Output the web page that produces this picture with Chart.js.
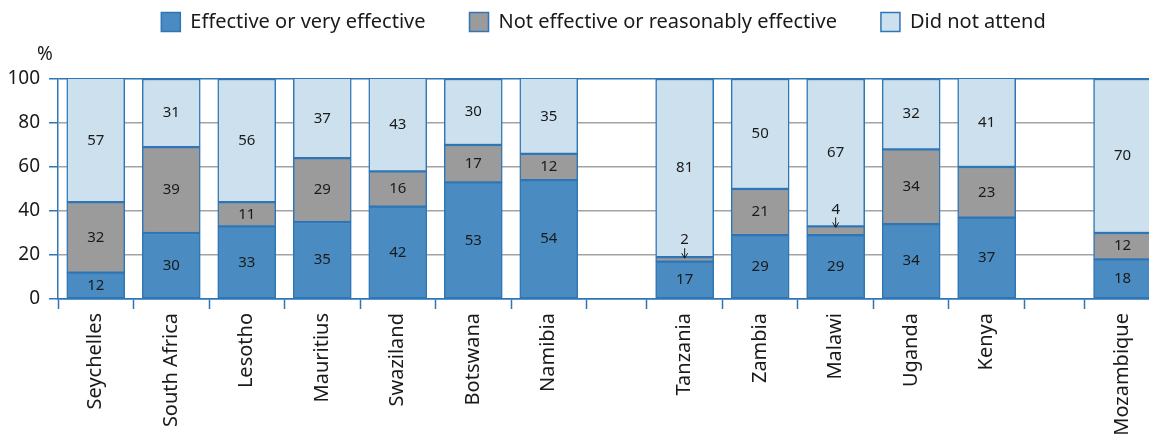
<!DOCTYPE html>
<html>
<head>
<meta charset="utf-8">
<script src="https://cdn.jsdelivr.net/npm/chart.js@4/dist/chart.umd.min.js"></script>
<style>
  html, body { margin: 0; padding: 0; background: #fff; }
  #wrap { width: 1149px; height: 435px; position: relative; }
</style>
</head>
<body>
<div id="wrap"><canvas id="chart"></canvas></div>
<script>
// countries, in three regional groups separated by a gap
const countries = ['Seychelles', 'South Africa', 'Lesotho', 'Mauritius', 'Swaziland', 'Botswana', 'Namibia',
                   'Tanzania', 'Zambia', 'Malawi', 'Uganda', 'Kenya',
                   'Mozambique'];
const groupSizes = [7, 5, 1];

const effective    = [12, 30, 33, 35, 42, 53, 54, 17, 29, 29, 34, 37, 18];
const notEffective = [32, 39, 11, 29, 16, 17, 12, 2, 21, 4, 34, 23, 12];
const didNotAttend = [57, 31, 56, 37, 43, 30, 35, 81, 50, 67, 32, 41, 70];

const seriesNames = ['Effective or very effective', 'Not effective or reasonably effective', 'Did not attend'];
const yTicks = [0, 20, 40, 60, 80, 100];

const BLUE_LINE = '#2f76b6';
const TEXT = '#1a1a1a';
const FONT = "'Noto Sans', 'Open Sans', sans-serif";

// x positions: one unit per bar, extra space between groups
const GAP = 0.8;
const positions = [];
let g = 0, inGroup = 0;
countries.forEach(function(c, i) {
    positions.push(i + g * GAP);
    inGroup++;
    if (inGroup === groupSizes[g]) { g++; inGroup = 0; }
});
const xMax = positions[positions.length - 1] + 0.35;

const xTicks = [];
positions.forEach(function(p, i) {
    const left = p - 0.5;
    if (!xTicks.length || Math.abs(xTicks[xTicks.length - 1].value - left) > 1e-6) {
        xTicks.push({ value: left, label: '', boundary: true });
    }
    xTicks.push({ value: p, label: countries[i], boundary: false });
    if (p + 0.5 <= xMax) xTicks.push({ value: p + 0.5, label: '', boundary: true });
});

function toPoints(values) {
    return values.map(function(v, i) { return { x: positions[i], y: v }; });
}

const barLabels = {
    id: 'barLabels',
    afterDatasetsDraw(chart) {
        const ctx = chart.ctx;
        const top = chart.chartArea.top;
        ctx.save();
        ctx.font = '15px ' + FONT;
        ctx.fillStyle = TEXT;
        ctx.strokeStyle = TEXT;
        ctx.textAlign = 'center';
        ctx.textBaseline = 'middle';
        chart.data.datasets.forEach(function(ds, di) {
            const meta = chart.getDatasetMeta(di);
            meta.data.forEach(function(bar, j) {
                const v = ds.data[j].y;
                const yTop = Math.max(bar.y, top);
                if (v < 5) {
                    ctx.fillText(String(v), bar.x, yTop - 17);
                    ctx.lineWidth = 1;
                    ctx.beginPath();
                    ctx.moveTo(bar.x, yTop - 9);
                    ctx.lineTo(bar.x, yTop);
                    ctx.stroke();
                    ctx.beginPath();
                    ctx.moveTo(bar.x - 3, yTop - 4);
                    ctx.lineTo(bar.x, yTop + 1);
                    ctx.lineTo(bar.x + 3, yTop - 4);
                    ctx.stroke();
                } else {
                    ctx.fillText(String(v), bar.x, (yTop + bar.base) / 2);
                }
            });
        });
        ctx.restore();
    }
};

const percentSign = {
    id: 'percentSign',
    afterDraw(chart) {
        const ctx = chart.ctx;
        ctx.save();
        ctx.font = '19px ' + FONT;
        ctx.fillStyle = TEXT;
        ctx.textAlign = 'center';
        ctx.textBaseline = 'middle';
        ctx.fillText('%', 45, 55);
        ctx.restore();
    }
};

const LEGEND_PAD = 44;
const legendHeight = {
    id: 'legendHeight',
    beforeInit(chart) {
        const fit = chart.legend.fit;
        chart.legend.fit = function() {
            fit.call(this);
            this.height = 79 + LEGEND_PAD - 12;
        };
    }
};

const common = { borderColor: BLUE_LINE, borderWidth: 1.5, borderSkipped: false, barThickness: 58, clip: 0 };

new Chart(document.getElementById('chart'), {
    type: 'bar',
    data: {
        datasets: [
            Object.assign({ label: seriesNames[0], data: toPoints(effective), backgroundColor: '#4a8cc1' }, common),
            Object.assign({ label: seriesNames[1], data: toPoints(notEffective), backgroundColor: '#9b9b9b' }, common),
            Object.assign({ label: seriesNames[2], data: toPoints(didNotAttend), backgroundColor: '#cde0ee' }, common)
        ]
    },
    options: {
        responsive: true,
        maintainAspectRatio: false,
        animation: false,
        layout: { padding: { top: 12 - LEGEND_PAD, left: 0, right: 0, bottom: 0 } },
        plugins: {
            legend: {
                position: 'top',
                fullSize: false,
                labels: {
                    boxWidth: 19,
                    boxHeight: 19,
                    padding: LEGEND_PAD,
                    color: TEXT,
                    font: { family: FONT, size: 20 }
                }
            },
            tooltip: { enabled: false }
        },
        scales: {
            x: {
                type: 'linear',
                stacked: true,
                offset: false,
                min: -0.5,
                max: xMax,
                afterBuildTicks: function(scale) {
                    scale.ticks = xTicks.map(function(t) { return { value: t.value }; });
                },
                afterFit: function(scale) {
                    scale.height = 136;
                    scale.paddingLeft = 0;
                    scale.paddingRight = 0;
                },
                ticks: {
                    autoSkip: false,
                    minRotation: 90,
                    maxRotation: 90,
                    padding: 4,
                    color: TEXT,
                    font: { family: FONT, size: 20 },
                    callback: function(value, index) { return xTicks[index] ? xTicks[index].label : ''; }
                },
                grid: {
                    offset: false,
                    drawOnChartArea: false,
                    drawTicks: true,
                    tickLength: 10,
                    tickWidth: 1.5,
                    tickColor: function(ctx) {
                        const t = xTicks[ctx.index];
                        return t && t.boundary ? BLUE_LINE : 'rgba(0,0,0,0)';
                    }
                },
                border: { display: true, color: BLUE_LINE, width: 1.5 }
            },
            y: {
                stacked: true,
                min: 0,
                max: 100,
                afterBuildTicks: function(scale) {
                    scale.ticks = yTicks.map(function(v) { return { value: v }; });
                },
                afterFit: function(scale) { scale.width = 58; },
                ticks: {
                    padding: 9,
                    color: TEXT,
                    font: { family: FONT, size: 19 }
                },
                grid: {
                    color: function(ctx) {
                        const v = ctx.tick && ctx.tick.value;
                        return (v === 0 || v === 100) ? BLUE_LINE : '#a3a3a3';
                    },
                    lineWidth: 1.5,
                    tickLength: 9,
                    tickColor: BLUE_LINE
                },
                border: { display: true, color: BLUE_LINE, width: 1.5 }
            }
        }
    },
    plugins: [legendHeight, barLabels, percentSign]
});
</script>
</body>
</html>
